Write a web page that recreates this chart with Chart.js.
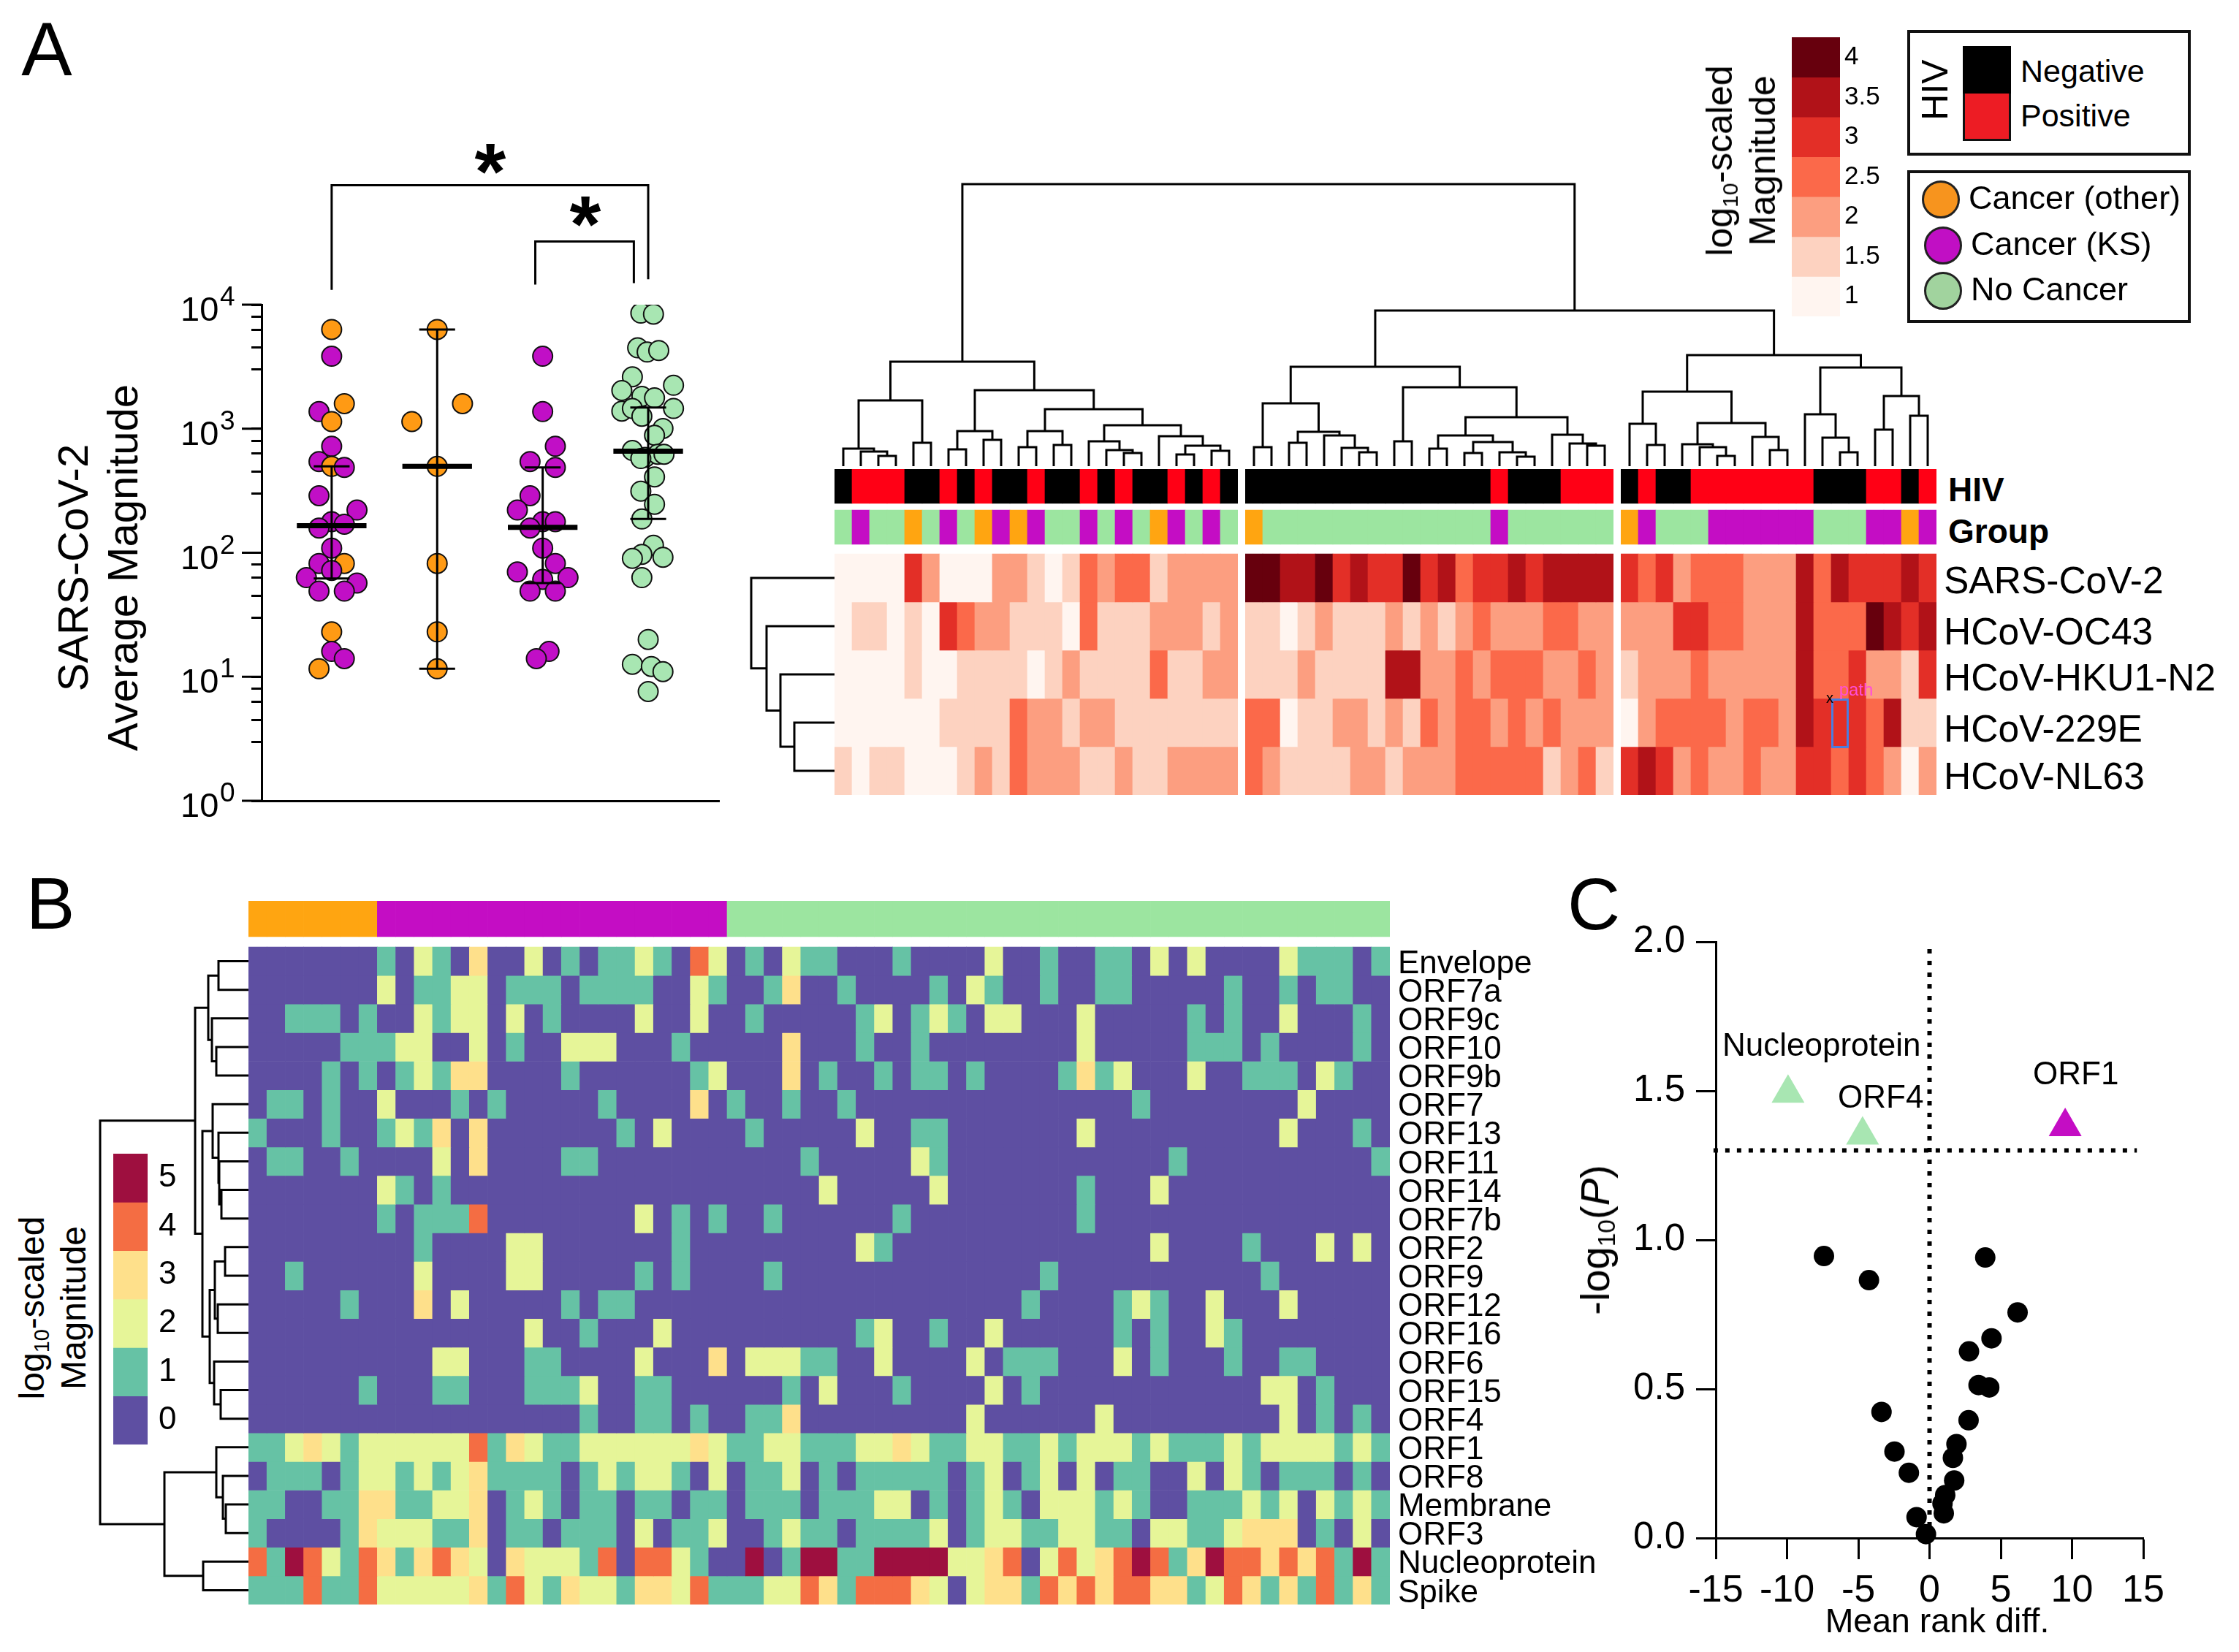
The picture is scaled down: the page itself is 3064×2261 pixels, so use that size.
<!DOCTYPE html>
<html>
<head>
<meta charset="utf-8">
<title>Panel figure</title>
<script src="https://cdn.jsdelivr.net/npm/chart.js@4"></script>
<style>
  html, body { margin: 0; padding: 0; background: #fff; }
  #page { position: relative; width: 3064px; height: 2261px; overflow: hidden; background: #fff;
          font-family: "Liberation Sans", Arial, sans-serif; color: #000; }
  #page canvas { position: absolute; }
  .t { position: absolute; white-space: nowrap; line-height: 1; }
  .t sub { font-size: .6em; vertical-align: baseline; position: relative; top: .25em; line-height: 0; }
  .b { position: absolute; box-sizing: border-box; }
</style>
</head>
<body>
<div id="page"></div>
<script>
// panel A, dot plot (x offsets are the beeswarm jitter in category units)
const dotCol1 = [6310, 3837, 1591, 1374, 1141, 721, 543, 497, 488, 288, 221, 178, 170, 158, 109, 82, 82, 72, 63, 57, 49, 49, 23, 16, 14, 11.6];
const dotCol1Jitter = [0, 0, .12, -.12, 0, 0, -.12, 0, .12, -.12, .24, 0, .12, -.12, 0, .12, -.12, 0, -.24, .24, -.12, .12, 0, 0, .12, -.12];
const dotCol1Kind = [2, 1, 2, 1, 2, 1, 1, 2, 1, 1, 1, 1, 1, 1, 1, 2, 1, 1, 1, 1, 1, 1, 2, 1, 1, 2];
const dotCol2 = [6310, 1591, 1141, 497, 82, 23, 11.6];
const dotCol2Jitter = [0, .24, -.24, 0, 0, 0, 0];
const dotCol3 = [3837, 1374, 721, 543, 488, 288, 221, 178, 178, 158, 109, 82, 70, 61, 63, 49, 49, 16, 14];
const dotCol3Jitter = [0, 0, .12, -.12, .12, -.12, -.24, 0, .12, -.12, 0, .12, -.24, 0, .24, -.12, .12, .06, -.06];
const dotCol4 = [8550, 8390, 4485, 4150, 4275, 2620, 2240, 2032, 1824, 1771, 1387, 1456, 1456, 1259, 1005, 885, 667, 587, 622, 622, 575, 409, 314, 246, 187, 115, 97, 90, 92, 63, 20, 12.6, 12.1, 11, 7.6];
const dotCol4Jitter = [-.07, .05, -.10, -.01, .10, -.15, .24, -.25, -.06, .06, -.25, -.15, .24, -.06, .14, .06, -.15, -.03, .09, .15, -.07, .06, -.07, .06, -.06, .05, -.06, -.15, .14, -.06, 0, -.15, .03, .14, 0];
const dotMedian = [165, 497, 160, 660];
const dotUpper = [497, 6310, 488, 1480];
const dotLower = [62, 11.6, 57, 187];
const logPowers = [0, 1, 2, 3, 4];
const logMinors = [3, 4.5, 6.3, 8];

// panel A, clustered heatmap (cluster strings, one digit per column)
const hivA = ['01110010100100101001010', '000000000000001000111', '010011111110001101'];
const groupA = ['01002010212100101021010', '200000000000001000000', '210001111110001121'];
const virusesA = ['SARS-CoV-2', 'HCoV-OC43', 'HCoV-HKU1-N2', 'HCoV-229E', 'HCoV-NL63'];
const heatA = [
  ['00004200022101323312222', '665564544645344545555', '434233322253544454'],
  ['01101043221110311122212', '110121112121232223322', '222443322253336545'],
  ['00001001111012111131122', '111211115522323332232', '122232222253342214'],
  ['00000011113221221111111', '330112212132332323222', '023333233254443511'],
  ['10110001213222112112222', '321111221222333331231', '454232232244343202']
];
const redsLabels = ['4', '3.5', '3', '2.5', '2', '1.5', '1'];
const redsColors = ['#67000d', '#b11218', '#e32f27', '#fb694a', '#fc9e80', '#fdd2c0', '#fff5f0'];
const heatLevels = ['#fff5f0', '#fdd2c0', '#fc9e80', '#fb694a', '#e32f27', '#b11218', '#67000d'];
const hivColors = ['#000000', '#ff0015'];
const groupColors = ['#9ce5a0', '#c40dc4', '#ffa511'];
const dotColors = ['#a8e6b2', '#c10fc6', '#ff9a14'];

// dendrograms: [height, left, right], 0 is a leaf
const treeTopC1 = [143, [90, [24, 0, [20, 0, [14, 0, 0]]], [32, 0, 0]],
  [104, [48, [23, 0, 0], [36, 0, 0]],
    [78, [48, [26, 0, 0], [29, 0, 0]],
      [56, [34, 0, [22, 0, [18, 0, 0]]], [41, 0, [28, [16, 0, 0], [21, 0, 0]]]]]]];
const treeTopC2 = [136, [86, [26, 0, 0], [47, [32, 0, 0], [42, 0, [25, 0, [19, 0, 0]]]]],
  [108, [34, 0, 0], [67, [42, [24, 0, 0], [33, [18, 0, 0], [19, 0, [13, 0, 0]]]], [43, 0, [31, 0, [28, 0, 0]]]]]];
const treeTopC3 = [152, [102, [58, 0, [29, 0, 0]], [59, [30, 0, [26, 0, [14, 0, 0]]], [40, 0, [22, 0, 0]]]],
  [135, [71, 0, [39, 0, [19, 0, 0]]], [96, [50, 0, 0], [69, 0, 0]]]];
const treeTop = [386, treeTopC1, [213, treeTopC2, treeTopC3]];
const treeVirus = [114, 0, [93, 0, [74, 0, [55, 0, 0]]]];
const treeOrf = [203,
  [73, [55, [41, 0, 0], [50, 0, [44, 0, 0]]],
    [63, [49, 0, [41, 0, [40, 0, [37, 0, 0]]]],
      [53, [46, [32, 0, 0], [42, 0, 0]], [47, 0, [38, 0, 0]]]]],
  [115, [44, 0, [35, 0, [31, 0, 0]]], [62, 0, 0]]];

// panel B, log10 magnitude per antigen (one digit per participant)
const orfLabels = ['Envelope', 'ORF7a', 'ORF9c', 'ORF10', 'ORF9b', 'ORF7', 'ORF13', 'ORF11', 'ORF14', 'ORF7b', 'ORF2', 'ORF9', 'ORF12', 'ORF16', 'ORF6', 'ORF15', 'ORF4', 'ORF1', 'ORF8', 'Membrane', 'ORF3', 'Nucleoprotein', 'Spike'];
const heatB = [
  '0000000102 1030020101 1210420102 1100010000 2001001102 020000211101',
  '0000000201 1220111011 1100210013 0010000102 1001001100 000100101100',
  '0011101002 1220201000 0200200100 0001201210 2200020000 010100200010',
  '0000011122 0020100222 0001000003 0001001000 0000020000 011101000010',
  '0000101012 1330000100 0000120003 0100101101 0000131200 020011102100',
  '0110100200 0101000001 0000301001 0010000000 0000000010 000000020000',
  '1000100121 3030000000 1020000100 0002001100 0000020000 000000200010',
  '0110010000 2030000110 0000000000 1000002100 0000000000 100000000001',
  '0000000210 1000000000 0000000000 0200000200 0000010002 000000000000',
  '0000000101 1140000000 0201010010 0000010000 0000010000 000000000000',
  '0000000001 0000220000 0001000000 0002100000 0000000002 000010002020',
  '0010000002 0000220000 0101000010 0000000000 0001000000 000001000000',
  '0000010003 0200000101 1000000000 0000000000 0010000121 002000200000',
  '0000000000 0000020010 0020000000 0001200100 2000000101 002100000000',
  '0000000000 2200011000 0200030222 1100200002 0111000201 000100110000',
  '0000001000 1100011120 0110000001 0200010000 2010000000 000002201000',
  '0000000000 0000000010 0110100113 0000000002 0000002000 000000201010',
  '1123212222 2241321122 2222321122 1112232112 2112122212 111212222121',
  '0111012212 1231111012 1221020112 0101111101 2012020110 020210111010',
  '1100113311 2230121011 0110110111 0111220101 2102221210 011121202121',
  '1000013222 1130110111 0201120012 1101111201 2211221102 211233301020',
  '4154214313 4320322214 0442100501 5511555522 3402423454 135443434151',
  '1114114222 2231421322 1332411122 4314443202 3314343443 312431314131'
];
const groupB = '2222222 1111111111111111111 000000000000000000000000000000000000';
const spectral = ['#5e4fa2', '#66c2a5', '#e6f598', '#fee08b', '#f46d43', '#9e0f3f'];
const spectralLabels = ['5', '4', '3', '2', '1', '0'];
const spectralBar = ['#9e0f3f', '#f46d43', '#fee08b', '#e6f598', '#66c2a5', '#5e4fa2'];

// panel C, volcano plot
const volcanoX = [-7.41, -4.25, -3.37, -2.46, -1.45, -.91, -.25, 1.0, .91, 1.10, 1.73, 1.64, 1.89, 2.74, 3.44, 4.19, 2.77, 4.35, 6.18, 3.91];
const volcanoY = [.946, .865, .423, .29, .219, .07, .013, .083, .116, .144, .193, .269, .315, .395, .513, .505, .626, .67, .757, .941];
const hitLabels = ['Nucleoprotein', 'ORF4', 'ORF1'];
const hitX = [-9.93, -4.7, 9.52];
const hitY = [1.492, 1.352, 1.38];
const hitColors = ['#a8e6b2', '#a8e6b2', '#c40dc4'];

const FONT = '"Liberation Sans", Arial, sans-serif';
Chart.defaults.font.family = FONT;
Chart.defaults.color = '#000';
Chart.defaults.animation = false;
Chart.defaults.responsive = false;
Chart.defaults.devicePixelRatio = 1;
Chart.defaults.plugins.legend.display = false;
Chart.defaults.plugins.tooltip.enabled = false;

const page = document.getElementById('page');
const digits = s => [...s.replace(/\s/g, '')].map(Number);

const addCanvas = (x, y, w, h) => {
    const c = document.createElement('canvas');
    c.width = w; c.height = h;
    c.style.left = x + 'px'; c.style.top = y + 'px';
    page.appendChild(c);
    return c;
};

const text = (html, x, y, size, opts = {}) => {
    const d = document.createElement('div');
    d.className = 't';
    d.innerHTML = html;
    d.style.left = x + 'px'; d.style.top = y + 'px';
    d.style.fontSize = size + 'px';
    if (opts.bold) d.style.fontWeight = 'bold';
    if (opts.lineHeight) { d.style.lineHeight = opts.lineHeight + 'px'; d.style.textAlign = 'center'; }
    if (opts.color) d.style.color = opts.color;
    d.style.transform = `translate(${opts.left ? '0' : '-50%'}, -50%)` + (opts.rotate ? ` rotate(${opts.rotate}deg)` : '');
    page.appendChild(d);
};

const box = (x, y, w, h, css) => {
    const d = document.createElement('div');
    d.className = 'b';
    d.style.cssText = `left:${x}px;top:${y}px;width:${w}px;height:${h}px;${css}`;
    page.appendChild(d);
};

// labels must not eat into the plot area, the sizes here are fixed
const fixSize = (s, size) => {
    if (s.isHorizontal()) s.height = size; else s.width = size;
    s.paddingTop = 0; s.paddingBottom = 0; s.paddingLeft = 0; s.paddingRight = 0;
};

// stacked strip chart: every cell is one bar segment
const strip = (values, height, palette) => ({
    data: values.map(() => height),
    backgroundColor: values.map(v => palette[v]),
    barPercentage: 1, categoryPercentage: 1, borderWidth: 0
});
const gapRow = (n, height) => ({
    data: Array(n).fill(height), backgroundColor: 'rgba(0,0,0,0)',
    barPercentage: 1, categoryPercentage: 1, borderWidth: 0
});

const addStacked = (canvas, labels, datasets, total, yOptions, bottomPad = 0) => new Chart(canvas, {
    type: 'bar',
    data: { labels, datasets },
    options: {
        layout: { padding: { bottom: bottomPad } },
        scales: {
            x: { stacked: true, display: false },
            y: Object.assign({ stacked: true, reverse: true, min: 0, max: total, display: false }, yOptions)
        }
    }
});

// dendrogram as one broken line, leaves are placed by leafPos
const treePoints = (tree, leafPos, sideways) => {
    const pts = [];
    let leaf = 0;
    const xy = (h, p) => sideways ? { x: h, y: p } : { x: p, y: h };
    const walk = node => {
        if (node === 0) return { p: leafPos(leaf++), h: 0 };
        const [h, a, b] = node;
        const A = walk(a), B = walk(b);
        pts.push(xy(A.h, A.p), xy(h, A.p), xy(h, B.p), xy(B.h, B.p), { x: null, y: null });
        return { p: (A.p + B.p) / 2, h };
    };
    walk(tree);
    return pts;
};

const addTree = (canvas, points, scales) => new Chart(canvas, {
    type: 'scatter',
    data: { datasets: [{ data: points, showLine: true, pointRadius: 0, borderColor: '#000', borderWidth: 3, borderCapStyle: 'square', clip: false, spanGaps: false }] },
    options: { layout: { padding: 0 }, scales }
});

// colour bar with labels on the right
const addColorbar = (x, y, barW, h, labels, colors, size, pad) => {
    const axisW = 90;
    const n = labels.length;
    addStacked(addCanvas(x, y, barW + axisW, h), [''],
        colors.map(c => ({ data: [1], backgroundColor: c, barPercentage: 1, categoryPercentage: 1, borderWidth: 0 })), n, {
            display: true,
            position: 'right',
            afterFit: s => fixSize(s, axisW),
            afterBuildTicks: s => { s.ticks = labels.map((_, i) => ({ value: i + .5 })); },
            border: { display: false },
            grid: { display: false, drawTicks: false },
            ticks: { autoSkip: false, padding: pad, font: { size }, callback: (v, i) => labels[i] }
        });
};

// ---------- panel A dot plot ----------
const dotPoints = (cat, values, jitter) => values.map((y, i) => ({ x: cat + jitter[i], y }));
const dotSet = (points, colors) => ({
    data: points, backgroundColor: colors, borderColor: '#111', borderWidth: 2,
    pointRadius: 13.5, order: 5
});

const summaryThin = [], summaryThick = [];
const GAP = { x: null, y: null };
dotMedian.forEach((m, i) => {
    summaryThick.push({ x: i - .33, y: m }, { x: i + .33, y: m }, GAP);
    summaryThin.push({ x: i, y: dotLower[i] }, { x: i, y: dotUpper[i] }, GAP);
    summaryThin.push({ x: i - .17, y: dotLower[i] }, { x: i + .17, y: dotLower[i] }, GAP);
    summaryThin.push({ x: i - .17, y: dotUpper[i] }, { x: i + .17, y: dotUpper[i] }, GAP);
});
const bracketOuter = [{ x: 0, y: 13150 }, { x: 0, y: 92000 }, { x: 3, y: 92000 }, { x: 3, y: 16000 }];
const bracketInner = [{ x: 1.93, y: 14500 }, { x: 1.93, y: 32300 }, { x: 2.864, y: 32300 }, { x: 2.864, y: 14900 }];
const lineSet = (data, width, order) => ({ data, showLine: true, pointRadius: 0, borderColor: '#000', borderWidth: width, clip: false, spanGaps: false, order });

const powerTicks = {
    id: 'powerTicks',
    afterDraw(chart) {
        const s = chart.scales.y, ctx = chart.ctx;
        ctx.save();
        ctx.fillStyle = '#000'; ctx.strokeStyle = '#000'; ctx.lineWidth = 3;
        logPowers.forEach(p => {
            const py = s.getPixelForValue(Math.pow(10, p));
            ctx.beginPath(); ctx.moveTo(s.right - 27, py); ctx.lineTo(s.right, py); ctx.stroke();
            ctx.textAlign = 'left'; ctx.textBaseline = 'alphabetic';
            ctx.font = `47px ${FONT}`;
            ctx.fillText('10', s.right - 111, py + 22);
            ctx.font = `37px ${FONT}`;
            ctx.fillText(String(p), s.right - 57, py + 1);
        });
        ctx.restore();
    }
};

new Chart(addCanvas(60, 130, 940, 1010), {
    type: 'scatter',
    data: {
        datasets: [
            lineSet(summaryThick, 7, 1),
            lineSet(summaryThin, 3, 2),
            lineSet(bracketOuter, 3, 3),
            lineSet(bracketInner, 3, 3),
            dotSet(dotPoints(0, dotCol1, dotCol1Jitter), dotCol1Kind.map(k => dotColors[k])),
            dotSet(dotPoints(1, dotCol2, dotCol2Jitter), dotColors[2]),
            dotSet(dotPoints(2, dotCol3, dotCol3Jitter), dotColors[1]),
            dotSet(dotPoints(3, dotCol4, dotCol4Jitter), dotColors[0])
        ]
    },
    options: {
        layout: { padding: { top: 287, bottom: 44, right: 15, left: 0 } },
        scales: {
            x: {
                type: 'linear', min: -.664, max: 3.675,
                afterFit: s => fixSize(s, 0),
                border: { display: true, color: '#000', width: 3 },
                grid: { display: false },
                ticks: { display: false }
            },
            y: {
                type: 'logarithmic', min: 1, max: 10000,
                afterFit: s => fixSize(s, 298),
                afterBuildTicks: s => {
                    const ticks = [];
                    logPowers.forEach(p => {
                        const d = Math.pow(10, p);
                        ticks.push({ value: d, major: true });
                        if (p < 4) logMinors.forEach(m => ticks.push({ value: m * d }));
                    });
                    s.ticks = ticks;
                },
                border: { display: true, color: '#000', width: 3 },
                grid: { drawOnChartArea: false, tickLength: 14, tickWidth: 3, tickColor: '#000' },
                ticks: { display: false, autoSkip: false }
            }
        }
    },
    plugins: [powerTicks]
});
text('SARS-CoV-2<br>Average Magnitude', 134, 777, 58, { lineHeight: 68, rotate: -90 });
text('*', 671, 234, 110, { bold: true });
text('*', 801, 306, 110, { bold: true });

// ---------- panel A heatmap ----------
const CELL_A = 24;
const clusterLeft = [1142, 1704, 2218];
hivA.forEach((hiv, c) => {
    const n = hiv.length;
    const sets = [strip(digits(hiv), 47, hivColors), gapRow(n, 9), strip(digits(groupA[c]), 47, groupColors), gapRow(n, 13)];
    heatA.forEach(row => sets.push(strip(digits(row[c]), 66, heatLevels)));
    addStacked(addCanvas(clusterLeft[c], 642, n * CELL_A, 446), Array.from({ length: n }, (_, i) => i), sets, 446);
});
const topGap = 10 / CELL_A;
addTree(addCanvas(1142, 245, 1508, 393),
    treePoints(treeTop, i => i + .5 + (i >= 23 ? topGap : 0) + (i >= 44 ? topGap : 0), false), {
        x: { type: 'linear', display: false, min: 0, max: 62 + 2 * topGap },
        y: { type: 'linear', display: false, min: 0, max: 393 }
    });
addTree(addCanvas(1020, 758, 122, 330), treePoints(treeVirus, i => i + .5, true), {
    x: { type: 'linear', display: false, min: 0, max: 122, reverse: true },
    y: { type: 'linear', display: false, min: 0, max: 5, reverse: true }
});
text('HIV', 2666, 670, 46, { bold: true, left: true });
text('Group', 2666, 727, 46, { bold: true, left: true });
[795, 865, 928, 998, 1063].forEach((y, i) => text(virusesA[i], 2660, y, 51.5, { left: true }));

// stray selection marker that is in the source image
box(2506, 956, 24, 68, 'border:3px solid #4a7de0;');
text('path', 2540, 944, 24, { color: '#ff4fd8' });
text('x', 2504, 955, 20, {});

// legends of panel A
addColorbar(2452, 51, 66, 382, redsLabels, redsColors, 35, 6);
text('log<sub>10</sub>-scaled<br>Magnitude', 2383, 220, 50, { lineHeight: 59, rotate: -90 });
box(2610, 41, 388, 172, 'border:4px solid #111;');
box(2686, 63, 66, 65, 'background:#000;');
box(2686, 128, 66, 65, 'background:#ed1c24;border:3px solid #111;border-top:0;');
text('HIV', 2648, 123, 50, { rotate: -90 });
text('Negative', 2765, 97, 43, { left: true });
text('Positive', 2765, 158, 43, { left: true });
box(2610, 233, 388, 209, 'border:4px solid #111;');
box(2630, 247, 52, 52, 'background:#f7941e;border:3px solid #222;border-radius:50%;');
box(2633, 310, 52, 52, 'background:#c10fc4;border:3px solid #222;border-radius:50%;');
box(2633, 372, 52, 52, 'background:#a1d39e;border:3px solid #222;border-radius:50%;');
text('Cancer (other)', 2694, 270, 45, { left: true });
text('Cancer (KS)', 2697, 333, 45, { left: true });
text('No Cancer', 2697, 395, 45, { left: true });

// ---------- panel B heatmap ----------
const ROW_B = 900 / orfLabels.length;
const groupBCols = digits(groupB);
const stripSets = [strip(groupBCols, 49, groupColors), gapRow(groupBCols.length, 14)];
heatB.forEach(row => stripSets.push(strip(digits(row), ROW_B, spectral)));
addStacked(addCanvas(340, 1233, 1860, 983), groupBCols.map((_, i) => i), stripSets, 963, {
    display: true,
    position: 'right',
    afterFit: s => fixSize(s, 298),
    afterBuildTicks: s => { s.ticks = orfLabels.map((_, i) => ({ value: 67 + ROW_B * (i + .5) })); },
    border: { display: false },
    grid: { display: false, drawTicks: false },
    ticks: { autoSkip: false, padding: 11, font: { size: 44 }, callback: (v, i) => orfLabels[i] }
}, 20);
addTree(addCanvas(130, 1296, 210, 900), treePoints(treeOrf, i => i + .5, true), {
    x: { type: 'linear', display: false, min: 0, max: 210, reverse: true },
    y: { type: 'linear', display: false, min: 0, max: orfLabels.length, reverse: true }
});
addColorbar(155, 1579, 47, 398, spectralLabels, spectralBar, 44, 15);
text('log<sub>10</sub>-scaled<br>Magnitude', 72, 1790, 48, { lineHeight: 57, rotate: -90 });

// ---------- panel C volcano ----------
const thresholdH = [{ x: -15.16, y: 1.3 }, { x: 14.55, y: 1.3 }];
const thresholdV = [{ x: 0, y: 0 }, { x: 0, y: 2 }];
const dotted = data => ({ data, showLine: true, pointRadius: 0, borderColor: '#000', borderWidth: 6, borderDash: [6, 10], clip: false, order: 3 });
new Chart(addCanvas(2210, 1260, 800, 950), {
    type: 'scatter',
    data: {
        datasets: [
            dotted(thresholdH),
            dotted(thresholdV),
            { data: volcanoX.map((x, i) => ({ x, y: volcanoY[i] })), backgroundColor: '#000', borderWidth: 0, pointRadius: 14, clip: false, order: 1 },
            { data: hitX.map((x, i) => ({ x, y: hitY[i] })), backgroundColor: hitColors, borderWidth: 0, pointStyle: 'triangle', pointRadius: 26, order: 2 }
        ]
    },
    options: {
        layout: { padding: { top: 29, right: 77, bottom: 0, left: 0 } },
        scales: {
            x: {
                type: 'linear', min: -15, max: 15,
                afterFit: s => fixSize(s, 105),
                afterBuildTicks: s => { s.ticks = [-15, -10, -5, 0, 5, 10, 15].map(value => ({ value })); },
                border: { color: '#000', width: 3 },
                grid: { drawOnChartArea: false, tickLength: 29, tickWidth: 3, tickColor: '#000' },
                ticks: { autoSkip: false, maxRotation: 0, padding: 12, font: { size: 52 } }
            },
            y: {
                type: 'linear', min: 0, max: 2,
                afterFit: s => fixSize(s, 138),
                afterBuildTicks: s => { s.ticks = [0, .5, 1, 1.5, 2].map(value => ({ value })); },
                border: { color: '#000', width: 3 },
                grid: { drawOnChartArea: false, tickLength: 27, tickWidth: 3, tickColor: '#000' },
                ticks: { autoSkip: false, padding: 15, font: { size: 51 }, callback: v => v.toFixed(1) }
            }
        }
    }
});
text(hitLabels[0], 2357, 1430, 44, { left: true });
text(hitLabels[1], 2515, 1501, 44, { left: true });
text(hitLabels[2], 2782, 1469, 44, { left: true });
text('Mean rank diff.', 2651, 2218, 46.5);
text('-log<sub>10</sub>(<i>P</i>)', 2183, 1697, 56, { rotate: -90 });

// panel letters
text('A', 64, 67, 104);
text('B', 69, 1236, 100);
text('C', 2181, 1237, 100);
</script>
</body>
</html>
